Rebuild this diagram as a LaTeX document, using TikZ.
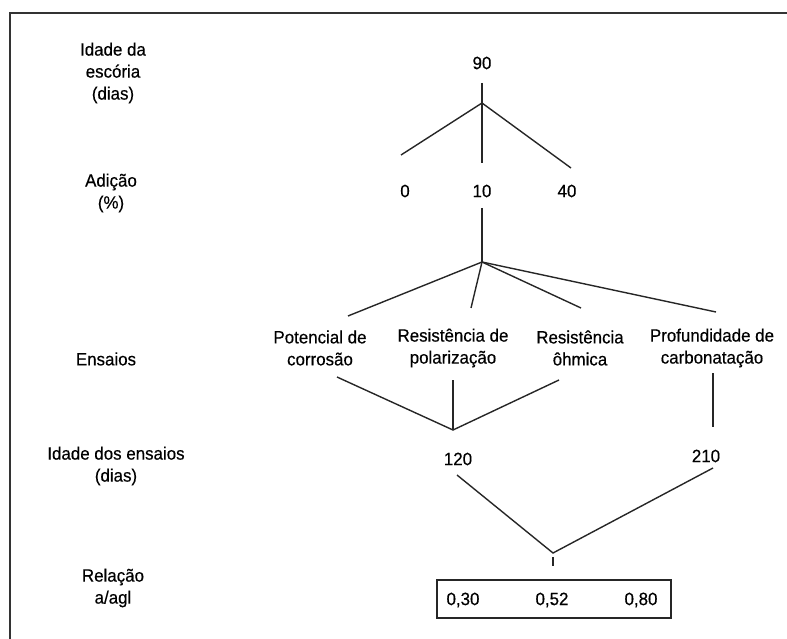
\documentclass[tikz,border=0pt]{standalone}
\usepackage{fontspec}
\setmainfont{Liberation Sans}[FakeStretch=0.95,FakeBold=0.4]
\begin{document}
\begin{tikzpicture}[x=1pt,y=-1pt,
  lbl/.style={inner sep=0pt,align=center,font=\fontsize{17.8}{22}\selectfont},
  conn/.style={line width=1.4pt,black!85},
  frame/.style={line width=1.7pt,black!80}]
\useasboundingbox (0,0) rectangle (787,639);
% frame
\coordinate (fr) at (787,13);
\coordinate (fc) at (10,13);
\coordinate (fb) at (10,639);
\draw[frame] (fr) -- (fc) -- (fb);
% left labels
\node[lbl] (Lidade) at (113,73) {Idade da\\escória\\(dias)};
\node[lbl] (Ladicao) at (111,193) {Adição\\(\%)};
\node[lbl] (Lensaios) at (106,359) {Ensaios};
\node[lbl] (Lidens) at (116,466) {Idade dos ensaios\\(dias)};
\node[lbl] (Lrel) at (113,588) {Relação\\a/agl};
% values
\node[lbl] (n90) at (482,63) {90};
\node[lbl] (n0) at (405,191) {0};
\node[lbl] (n10) at (482,191) {10};
\node[lbl] (n40) at (567,191) {40};
\node[lbl] (tpc) at (320,348) {Potencial de\\corrosão};
\node[lbl] (trp) at (453,348) {Resistência de\\polarização};
\node[lbl] (tro) at (580,348) {Resistência\\ôhmica};
\node[lbl] (tpf) at (712,348) {Profundidade de\\carbonatação};
\node[lbl] (n120) at (458,459) {120};
\node[lbl] (n210) at (706,456) {210};
\node[draw,line width=1.4pt,black!85,minimum width=234pt,minimum height=38pt,inner sep=0pt] (box) at (554,599) {};
\node[lbl] (r30) at (463,600) {0,30};
\node[lbl] (r52) at (552,600) {0,52};
\node[lbl] (r80) at (641,600) {0,80};
% coordinates
\coordinate (a1) at (482,83);
\coordinate (j1) at (482,103);
\coordinate (e10) at (482,163);
\coordinate (e0) at (401,155);
\coordinate (e40) at (571,168);
\coordinate (a2) at (482,208);
\coordinate (j2) at (482,262);
\coordinate (epc) at (348,316);
\coordinate (erp) at (471,308);
\coordinate (ero) at (581,308);
\coordinate (epf) at (716,312);
\coordinate (bpc) at (337,377);
\coordinate (brp) at (453,380);
\coordinate (bro) at (559,380);
\coordinate (v1) at (453,430);
\coordinate (bpf) at (713,373);
\coordinate (cpf) at (713,427);
\coordinate (b120) at (457,475);
\coordinate (b210) at (713,468);
\coordinate (v2) at (553,553);
\coordinate (k1) at (553,557);
\coordinate (k2) at (553,566);
% connectors
\draw[conn] (a1) -- (e10);
\draw[conn] (e0) -- (j1) -- (e40);
\draw[conn] (a2) -- (j2);
\draw[conn] (j2) -- (epc);
\draw[conn] (j2) -- (erp);
\draw[conn] (j2) -- (ero);
\draw[conn] (j2) -- (epf);
\draw[conn] (bpc) -- (v1) -- (bro);
\draw[conn] (brp) -- (v1);
\draw[conn] (bpf) -- (cpf);
\draw[conn] (b120) -- (v2) -- (b210);
\draw[conn] (k1) -- (k2);
\end{tikzpicture}
\end{document}
